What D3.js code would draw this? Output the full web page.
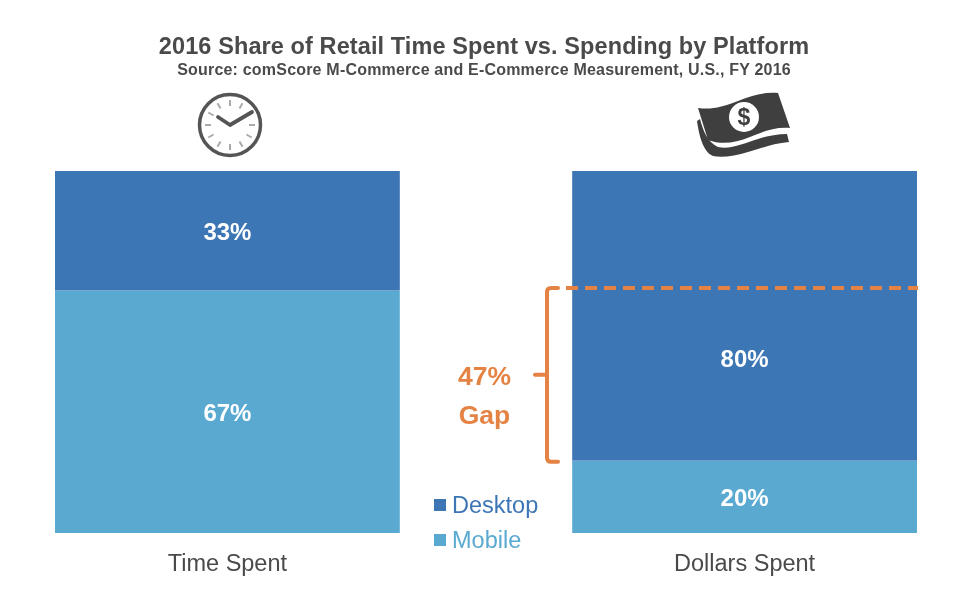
<!DOCTYPE html>
<html>
<head>
<meta charset="utf-8">
<script src="https://cdnjs.cloudflare.com/ajax/libs/d3/7.8.5/d3.min.js"></script>
<style>
  html, body { margin: 0; padding: 0; background: #fff; }
  svg { display: block; filter: blur(0.35px); }
  text { font-family: "Liberation Sans", Arial, sans-serif; }
</style>
</head>
<body>
<svg id="chart" width="959" height="596"></svg>
<script>
// Chart values
const categories = ['Time Spent', 'Dollars Spent'];
const platforms = ['Mobile', 'Desktop'];
const mobileShare = [67, 20];
const desktopShare = [33, 80];
const gapLabel = ['47%', 'Gap'];
const gapTop = 67.7;      // where the dashed line sits
const gapBottom = 19.7;   // bottom of the bracket
const desktopLabelAt = [83.5, 48.3]; // the 80% label sits below the dashed line, not mid-segment

const blue = '#3d76b5', light = '#5aa9d1', orange = '#e58344', grey = '#4a4a4a';

const svg = d3.select('#chart');

const x = d3.scaleBand().domain(categories).range([55, 917]).paddingInner(1 / 3).paddingOuter(0);
const y = d3.scaleLinear().domain([0, 100]).range([533, 171]);
const color = d3.scaleOrdinal().domain(platforms).range([light, blue]);

const rows = categories.map((c, i) => ({ category: c, Mobile: mobileShare[i], Desktop: desktopShare[i], labelAt: desktopLabelAt[i] }));
const stacked = d3.stack().keys(platforms)(rows);

// Titles
svg.append('text').attr('x', 484).attr('y', 54).attr('text-anchor', 'middle')
  .attr('fill', grey).style('font-size', '23.5px').style('font-weight', '700').style('letter-spacing', '0.1px')
  .text('2016 Share of Retail Time Spent vs. Spending by Platform');
svg.append('text').attr('x', 484).attr('y', 75).attr('text-anchor', 'middle')
  .attr('fill', grey).style('font-size', '16px').style('font-weight', '700').style('letter-spacing', '0.2px')
  .text('Source: comScore M-Commerce and E-Commerce Measurement, U.S., FY 2016');

// Bars
const layer = svg.selectAll('g.layer').data(stacked).join('g').attr('class', 'layer')
  .attr('fill', d => color(d.key));
layer.selectAll('rect').data(d => d).join('rect')
  .attr('x', d => x(d.data.category))
  .attr('width', x.bandwidth())
  .attr('y', d => y(d[1]))
  .attr('height', d => y(d[0]) - y(d[1]));

// Value labels
layer.each(function (s) {
  d3.select(this).selectAll('text').data(s).join('text')
    .attr('x', d => x(d.data.category) + x.bandwidth() / 2)
    .attr('y', d => (s.key === 'Desktop' ? y(d.data.labelAt) : (y(d[0]) + y(d[1])) / 2) + 9)
    .attr('text-anchor', 'middle')
    .attr('fill', '#fff')
    .style('font-size', '24px')
    .style('font-weight', '700')
    .text(d => (d[1] - d[0]) + '%');
});

// Category labels
svg.selectAll('text.cat').data(categories).join('text').attr('class', 'cat')
  .attr('x', d => x(d) + x.bandwidth() / 2)
  .attr('y', 571)
  .attr('text-anchor', 'middle')
  .attr('fill', grey)
  .style('font-size', '23.5px')
  .text(d => d);

// Gap annotation
svg.append('line')
  .attr('x1', 566).attr('x2', 918)
  .attr('y1', y(gapTop)).attr('y2', y(gapTop))
  .attr('stroke', orange).attr('stroke-width', 4)
  .attr('stroke-dasharray', '12 7');
svg.append('path')
  .attr('d', `M558,${y(gapTop)} H551 Q547,${y(gapTop)} 547,${y(gapTop) + 4} V${y(gapBottom) - 4} Q547,${y(gapBottom)} 551,${y(gapBottom)} H558 M535,${(y(gapTop) + y(gapBottom)) / 2} H547`)
  .attr('fill', 'none').attr('stroke', orange).attr('stroke-width', 4).attr('stroke-linecap', 'round');
svg.selectAll('text.gap').data(gapLabel).join('text').attr('class', 'gap')
  .attr('x', 484.5)
  .attr('y', (d, i) => 385 + i * 39)
  .attr('text-anchor', 'middle')
  .attr('fill', orange)
  .style('font-size', '26.5px')
  .style('font-weight', '700')
  .text(d => d);

// Legend
const legend = svg.selectAll('g.legend').data(['Desktop', 'Mobile']).join('g').attr('class', 'legend')
  .attr('transform', (d, i) => `translate(434,${499 + i * 35})`);
legend.append('rect').attr('width', 12).attr('height', 12).attr('fill', d => color(d));
legend.append('text').attr('x', 18).attr('y', 14)
  .attr('fill', d => color(d)).style('font-size', '23.5px').text(d => d);

// Clock icon
const clock = svg.append('g').attr('transform', 'translate(230,125)');
clock.append('circle').attr('r', 30.5).attr('fill', '#fff').attr('stroke', '#555').attr('stroke-width', 3.5);
clock.selectAll('line.tick').data(d3.range(12)).join('line').attr('class', 'tick')
  .attr('x1', d => 19 * Math.sin(d * Math.PI / 6)).attr('y1', d => -19 * Math.cos(d * Math.PI / 6))
  .attr('x2', d => 25 * Math.sin(d * Math.PI / 6)).attr('y2', d => -25 * Math.cos(d * Math.PI / 6))
  .attr('stroke', '#aaa').attr('stroke-width', 2);
clock.append('path').attr('d', 'M-12,-8 L0,0 L22,-13')
  .attr('fill', 'none').attr('stroke', '#555').attr('stroke-width', 3.8)
  .attr('stroke-linecap', 'round').attr('stroke-linejoin', 'round');

// Banknote icon
const money = svg.append('g').attr('fill', '#3f3f3f');
money.append('path').attr('d', 'M698,108 C712,110 722,107 738,101 C752,95 765,92 778,93 L790,128 C775,127 765,131 750,137 C735,143 722,145 708,140 Z');
money.append('path').attr('d', 'M697,121 L700,119 C703,130 707,142 718,147 C730,150 745,143 758,139 C767,136 778,134 787,134 L789,142 C775,143 762,148 748,152 C735,156 722,158 713,156 C703,152 699,135 697,121 Z');
money.append('circle').attr('cx', 744).attr('cy', 117).attr('r', 15).attr('fill', '#fff');
money.append('text').attr('x', 744).attr('y', 125).attr('text-anchor', 'middle')
  .attr('fill', '#3f3f3f').style('font-size', '23px').style('font-weight', '700').text('$');
</script>
</body>
</html>
